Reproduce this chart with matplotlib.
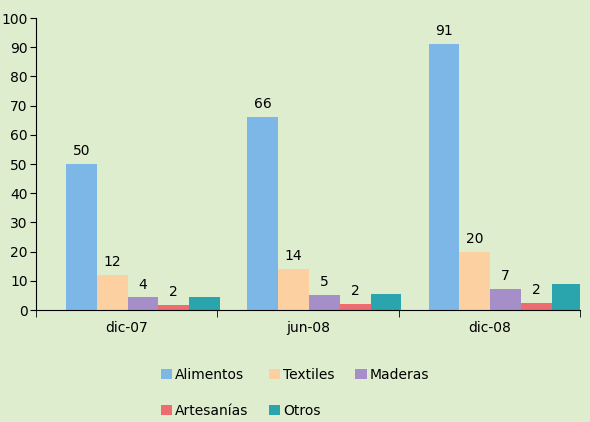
import numpy as np
import matplotlib.pyplot as plt

categories = ["dic-07", "jun-08", "dic-08"]
series = ["Alimentos", "Textiles", "Maderas", "Artesanías", "Otros"]
values = [
    [50, 66, 91],
    [12, 14, 20],
    [4.3, 5.3, 7.3],
    [1.6, 2.1, 2.5],
    [4.6, 5.6, 9.0],
]
labels = [
    ["50", "66", "91"],
    ["12", "14", "20"],
    ["4", "5", "7"],
    ["2", "2", "2"],
    None,
]
colors = ["#7db7e8", "#fdd0a2", "#a68fc8", "#ee6b70", "#2aa5ae"]
bg = "#dfedcf"

fig = plt.figure(figsize=(5.9, 4.22), dpi=100, facecolor=bg)
ax = fig.add_axes([36 / 590, 1 - 310 / 422, 544 / 590, 292 / 422], facecolor=bg)

x = np.arange(len(categories))
w = 0.17
handles = []
for i, (name, vals) in enumerate(zip(series, values)):
    pos = x + 0.09 + (i - 2) * w
    handles.append(ax.bar(pos, vals, w, color=colors[i], label=name))
    if labels[i]:
        for p, v, t in zip(pos, vals, labels[i]):
            ax.text(p, v + 2, t, ha="center", va="bottom", fontsize=10)

ax.set_xlim(-0.5, 2.5)
ax.set_ylim(0, 100)
ax.set_yticks(range(0, 101, 10))
ax.set_xticks(x)
ax.set_xticklabels(categories)
ax.set_xticks([-0.5, 0.5, 1.5, 2.5], minor=True)
ax.tick_params(axis="x", which="major", length=0, labelsize=10, pad=8)
ax.tick_params(axis="x", which="minor", length=5)
ax.tick_params(axis="y", labelsize=10, length=4, pad=2)
for s in ["top", "right"]:
    ax.spines[s].set_visible(False)

order = [0, 3, 1, 4, 2]
fig.legend([handles[k] for k in order], [series[k] for k in order],
           loc="lower center", bbox_to_anchor=(0.5, -0.02), ncol=3, frameon=False,
           fontsize=10, handlelength=0.8, handletextpad=0.2, columnspacing=1.5,
           labelspacing=1.6)

fig.savefig("out.png", dpi=100, facecolor=bg)
